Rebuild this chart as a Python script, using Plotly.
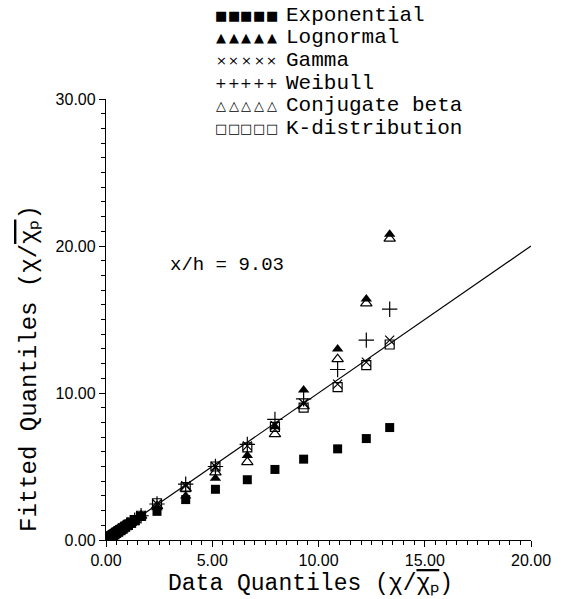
import plotly.graph_objects as go

# Data quantiles (x) shared by all fitted distributions
data_q = [0.02, 0.05, 0.08, 0.12, 0.16, 0.21, 0.27, 0.33, 0.40, 0.48, 0.57, 0.67,
          0.78, 0.90, 1.03, 1.18, 1.35, 1.65, 2.4, 3.75, 5.15, 6.65, 7.95, 9.3, 10.9, 12.25, 13.35]

exponential = [0.03, 0.07, 0.11, 0.16, 0.21, 0.27, 0.34, 0.40, 0.47, 0.55, 0.64, 0.73,
               0.83, 0.94, 1.05, 1.18, 1.32, 1.6, 1.95, 2.75, 3.45, 4.1, 4.8, 5.5, 6.2, 6.9, 7.65]
lognormal = [0.02, 0.05, 0.08, 0.12, 0.16, 0.21, 0.27, 0.33, 0.40, 0.48, 0.57, 0.67,
             0.78, 0.90, 1.03, 1.18, 1.35, 1.65, 2.2, 3.0, 4.2, 5.75, 7.7, 10.2, 13.0, 16.4, 20.8]
gamma = [0.02, 0.05, 0.08, 0.12, 0.16, 0.21, 0.27, 0.33, 0.40, 0.48, 0.57, 0.67,
         0.78, 0.90, 1.03, 1.18, 1.35, 1.65, 2.45, 3.7, 5.0, 6.4, 7.8, 9.3, 10.6, 12.1, 13.6]
weibull = [0.02, 0.05, 0.08, 0.12, 0.16, 0.21, 0.27, 0.33, 0.40, 0.48, 0.57, 0.67,
           0.78, 0.90, 1.03, 1.18, 1.35, 1.65, 2.45, 3.8, 5.0, 6.5, 8.2, 9.6, 11.6, 13.6, 15.7]
conj_beta = [0.02, 0.05, 0.08, 0.12, 0.16, 0.21, 0.27, 0.33, 0.40, 0.48, 0.57, 0.67,
             0.78, 0.90, 1.03, 1.18, 1.35, 1.65, 2.3, 3.5, 4.6, 5.3, 7.2, 9.1, 12.3, 16.1, 20.5]
k_dist = [0.02, 0.05, 0.08, 0.12, 0.16, 0.21, 0.27, 0.33, 0.40, 0.48, 0.57, 0.67,
          0.78, 0.90, 1.03, 1.18, 1.35, 1.65, 2.5, 3.6, 5.0, 6.3, 7.7, 9.0, 10.4, 11.9, 13.3]

ref_line_x = [0, 20]
ref_line_y = [0, 20]

series_names = ["Exponential", "Lognormal", "Gamma", "Weibull", "Conjugate beta", "K-distribution"]
legend_glyphs = ["■", "▲", "×", "+", "△", "□"]

x_ticks = [0, 5, 10, 15, 20]
y_ticks = [0, 10, 20, 30]

fig = go.Figure()
fig.add_trace(go.Scatter(x=ref_line_x, y=ref_line_y, mode="lines",
                         line=dict(color="black", width=1.2), showlegend=False))

styles = [
    (exponential, dict(symbol="square", size=9, color="black")),
    (lognormal, dict(symbol="triangle-up", size=10, color="black")),
    (gamma, dict(symbol="x-thin-open", size=9, color="black", line=dict(width=1.2, color="black"))),
    (weibull, dict(symbol="cross-thin-open", size=11, color="black", line=dict(width=1.2, color="black"))),
    (conj_beta, dict(symbol="triangle-up-open", size=10, color="black", line=dict(width=1.2, color="black"))),
    (k_dist, dict(symbol="square-open", size=9, color="black", line=dict(width=1.2, color="black"))),
]
for (ys, mk), name in zip(styles, series_names):
    fig.add_trace(go.Scatter(x=data_q, y=ys, mode="markers", marker=mk, name=name, showlegend=False))

mono = "Liberation Mono"

# plot-area geometry used to place paper-referenced texts
L, R, T, B, W, H = 106, 21, 99, 59, 563, 599
PW, PH = W - L - R, H - T - B


def px(xp):
    return (xp - L) / PW


def py(yp):
    return (H - B - yp) / PH


# legend block: five repeated symbols then the series name
glyph_sizes = [13, 13, 13, 14, 13, 13]
for i, (g, n) in enumerate(zip(legend_glyphs, series_names)):
    yc = 15 + 22.7 * i
    for k in range(5):
        fig.add_annotation(xref="paper", yref="paper", x=px(224 + 13 * k), y=py(yc),
                           xanchor="center", yanchor="middle", showarrow=False, text=g,
                           font=dict(family="DejaVu Sans", size=glyph_sizes[i], color="black"))
    fig.add_annotation(xref="paper", yref="paper", x=px(289), y=py(yc),
                       xanchor="left", yanchor="middle", showarrow=False, text=n,
                       font=dict(family=mono, size=21, color="black"))

fig.add_annotation(x=5.7, y=18.7, text="x/h = 9.03", showarrow=False,
                   font=dict(family=mono, size=19, color="black"))

chi_frac = "(χ/<span style='text-decoration:overline'>χₚ</span>)"
fig.add_annotation(xref="paper", yref="paper", x=px(316), y=py(584), yanchor="middle",
                   text="Data Quantiles " + chi_frac, showarrow=False,
                   font=dict(family=mono, size=23, color="black"))
fig.add_annotation(xref="paper", yref="paper", x=px(27), y=py(368), xanchor="center",
                   yanchor="middle", textangle=-90, text="Fitted Quantiles " + chi_frac,
                   showarrow=False, font=dict(family=mono, size=24, color="black"))

axis_common = dict(showgrid=False, zeroline=False, showline=True, linecolor="black",
                   linewidth=1.3, ticks="outside", ticklen=6, tickcolor="black",
                   tickwidth=1.2, tickfont=dict(family="Liberation Sans", size=16, color="black"))
fig.update_xaxes(range=[0, 20], tickvals=x_ticks, ticktext=[f"{v:.2f}" for v in x_ticks],
                 minor=dict(dtick=0.5, ticks="outside", ticklen=4, tickcolor="black"),
                 **axis_common)
fig.update_yaxes(range=[0, 30], tickvals=y_ticks, ticktext=[f"{v:.2f}" for v in y_ticks],
                 minor=dict(dtick=1, ticks="outside", ticklen=4, tickcolor="black"),
                 **axis_common)

fig.update_layout(width=W, height=H, margin=dict(l=L, r=R, t=T, b=B),
                  plot_bgcolor="white", paper_bgcolor="white", showlegend=False)

fig.write_html("out.html")
